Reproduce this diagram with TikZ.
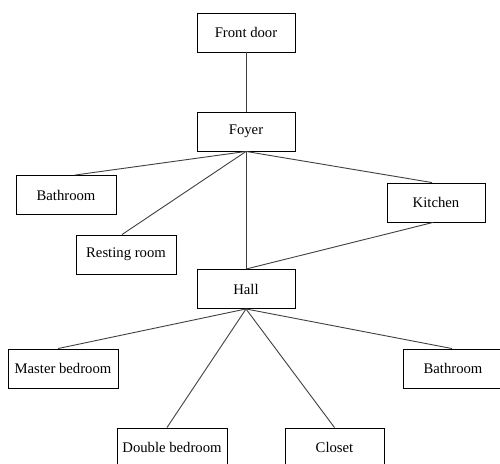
\documentclass[tikz,border=0pt]{standalone}
\usepackage{fontspec}
\setmainfont{Liberation Serif}
\begin{document}
\begin{tikzpicture}[x=1pt,y=-1pt,
  room/.style={draw=black,line width=0.9pt,fill=white,minimum height=39pt,
    inner sep=0pt,font=\fontsize{14.7}{17}\selectfont},
  link/.style={draw=black!75,line width=0.9pt}]
\useasboundingbox[fill=white] (0,0) rectangle (500,463);

% rooms
\node[room,minimum width=98pt]  (front)   at (246,32.5)  {Front door};
\node[room,minimum width=98pt]  (foyer)   at (246,131.5) {Foyer};
\node[room,minimum width=100pt] (bathA)   at (66,195)    {Bathroom};
\node[room,minimum width=100pt] (rest)    at (126,254.5) {Resting room};
\node[room,minimum width=98pt]  (kitchen) at (436,202.5) {Kitchen};
\node[room,minimum width=98pt]  (hall)    at (246,289)   {Hall};
\node[room,minimum width=110pt] (master)  at (63,368.5)  {Master bedroom};
\node[room,minimum width=100pt] (bathB)   at (453,368.5) {Bathroom};
\node[room,minimum width=110pt] (double)  at (172,447.5) {Double bedroom};
\node[room,minimum width=99pt]  (closet)  at (334.5,447.5) {Closet};

% connections
\draw[link] (front.south) -- (foyer.north);
\draw[link] (foyer.south) -- ([xshift=9pt]bathA.north);
\draw[link] (foyer.south) -- ([xshift=-4pt]rest.north);
\draw[link] (foyer.south) -- (hall.north);
\draw[link] (foyer.south) -- ([xshift=-4pt]kitchen.north);
\draw[link] ([xshift=-3pt]kitchen.south) -- (hall.north);
\draw[link] (hall.south) -- ([xshift=-5pt]master.north);
\draw[link] (hall.south) -- ([xshift=-5pt]double.north);
\draw[link] (hall.south) -- (closet.north);
\draw[link] (hall.south) -- ([xshift=-1pt]bathB.north);
\end{tikzpicture}
\end{document}
